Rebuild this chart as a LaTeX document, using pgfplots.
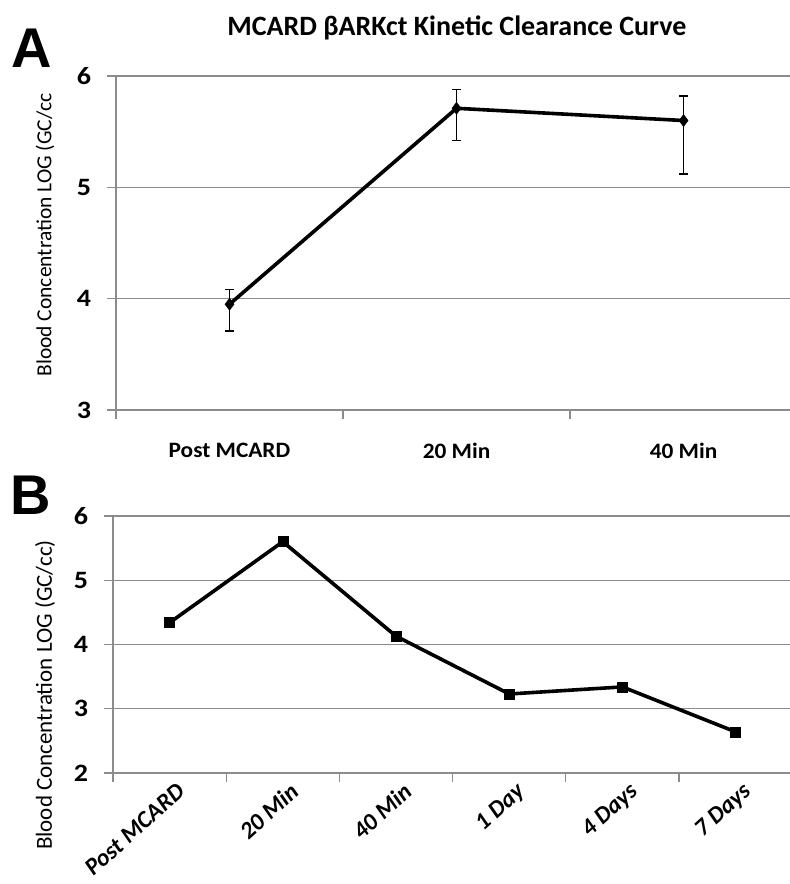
\documentclass[border=0pt]{standalone}
\usepackage{pgfplots}
\pgfplotsset{compat=1.18}
\usepackage{fontspec}
\setmainfont{Carlito}
\newfontfamily\arialfont{Liberation Sans}
\definecolor{gridc}{RGB}{140,140,140}
\pgfplotsset{
  common/.style={
    scale only axis,
    axis x line*=bottom, axis y line*=left,
    axis line style={gridc, line width=1.3pt, -},
    ymajorgrids, grid style={gridc, line width=1.4pt},
    tick align=outside,
    major tick length=9pt,
    tick style={gridc, line width=1.2pt},
    yticklabel style={font=\fontsize{25}{25}\selectfont\bfseries, xshift=-12pt, xscale=1.12},
    clip=false,
  }
}
\begin{document}
\begin{tikzpicture}[x=1pt,y=1pt]
\path[use as bounding box] (0,0) rectangle (790,-884);

% Panel A
\begin{axis}[common,
  at={(116pt,-410pt)}, anchor=south west,
  width=674pt, height=334pt,
  xmin=-0.5, xmax=2.469, ymin=3, ymax=6,
  ytick={3,4,5,6}, yticklabels={3,4,5,6},
  xtick={-0.5,0.5,1.5,2.5}, xticklabels={},
  extra x ticks={0,1,2},
  extra x tick labels={Post MCARD,20 Min,40 Min},
  extra x tick style={major tick length=0pt, grid=none,
     xticklabel style={font=\fontsize{22}{22}\selectfont\bfseries, yshift=-30pt, xscale=1.06}},
]
\addplot[black, line width=3.6pt, mark=diamond*, mark size=6pt,
  mark options={line width=0.5pt},
  error bars/.cd, y dir=both, y explicit,
  error bar style={line width=1.1pt, black},
  error mark options={black, mark size=4.5pt, line width=1.1pt, rotate=90}]
coordinates {
  (0,3.95) += (0,0.13) -= (0,0.24)
  (1,5.71) += (0,0.17) -= (0,0.29)
  (2,5.60) += (0,0.22) -= (0,0.48)
};
\end{axis}

% Panel B
\begin{axis}[common,
  at={(113pt,-773pt)}, anchor=south west,
  width=677pt, height=257pt,
  xmin=-0.5, xmax=5.48, ymin=2, ymax=6,
  ytick={2,3,4,5,6}, yticklabels={2,3,4,5,6},
  xtick={-0.5,0.5,1.5,2.5,3.5,4.5}, xticklabels={},
  extra x ticks={0,1,2,3,4,5},
  extra x tick labels={Post MCARD,20 Min,40 Min,1 Day,4 Days,7 Days},
  extra x tick style={major tick length=0pt, grid=none,
     xticklabel style={font=\fontsize{24}{24}\selectfont\bfseries\itshape,
       rotate=42, anchor=north east, yshift=-7pt, xshift=2pt}},
]
\addplot[black, line width=3.6pt, mark=square*, mark size=5pt,
  mark options={line width=0.5pt}]
coordinates {
  (0,4.34) (1,5.60) (2,4.13) (3,3.23) (4,3.34) (5,2.64)
};
\end{axis}

\node[font=\bfseries\fontsize{28}{28}\selectfont] at (457,-28) {MCARD βARKct Kinetic Clearance Curve};
\node[font=\arialfont\bfseries\fontsize{56}{56}\selectfont] at (32,-48) {A};
\node[font=\arialfont\bfseries\fontsize{56}{56}\selectfont] at (31,-495) {B};
\node[rotate=90, font=\fontsize{21.5}{21.5}\selectfont] at (45,-235) {Blood Concentration LOG (GC/cc};
\node[rotate=90, font=\fontsize{23}{23}\selectfont] at (45,-695) {Blood Concentration LOG (GC/cc)};
\end{tikzpicture}
\end{document}
